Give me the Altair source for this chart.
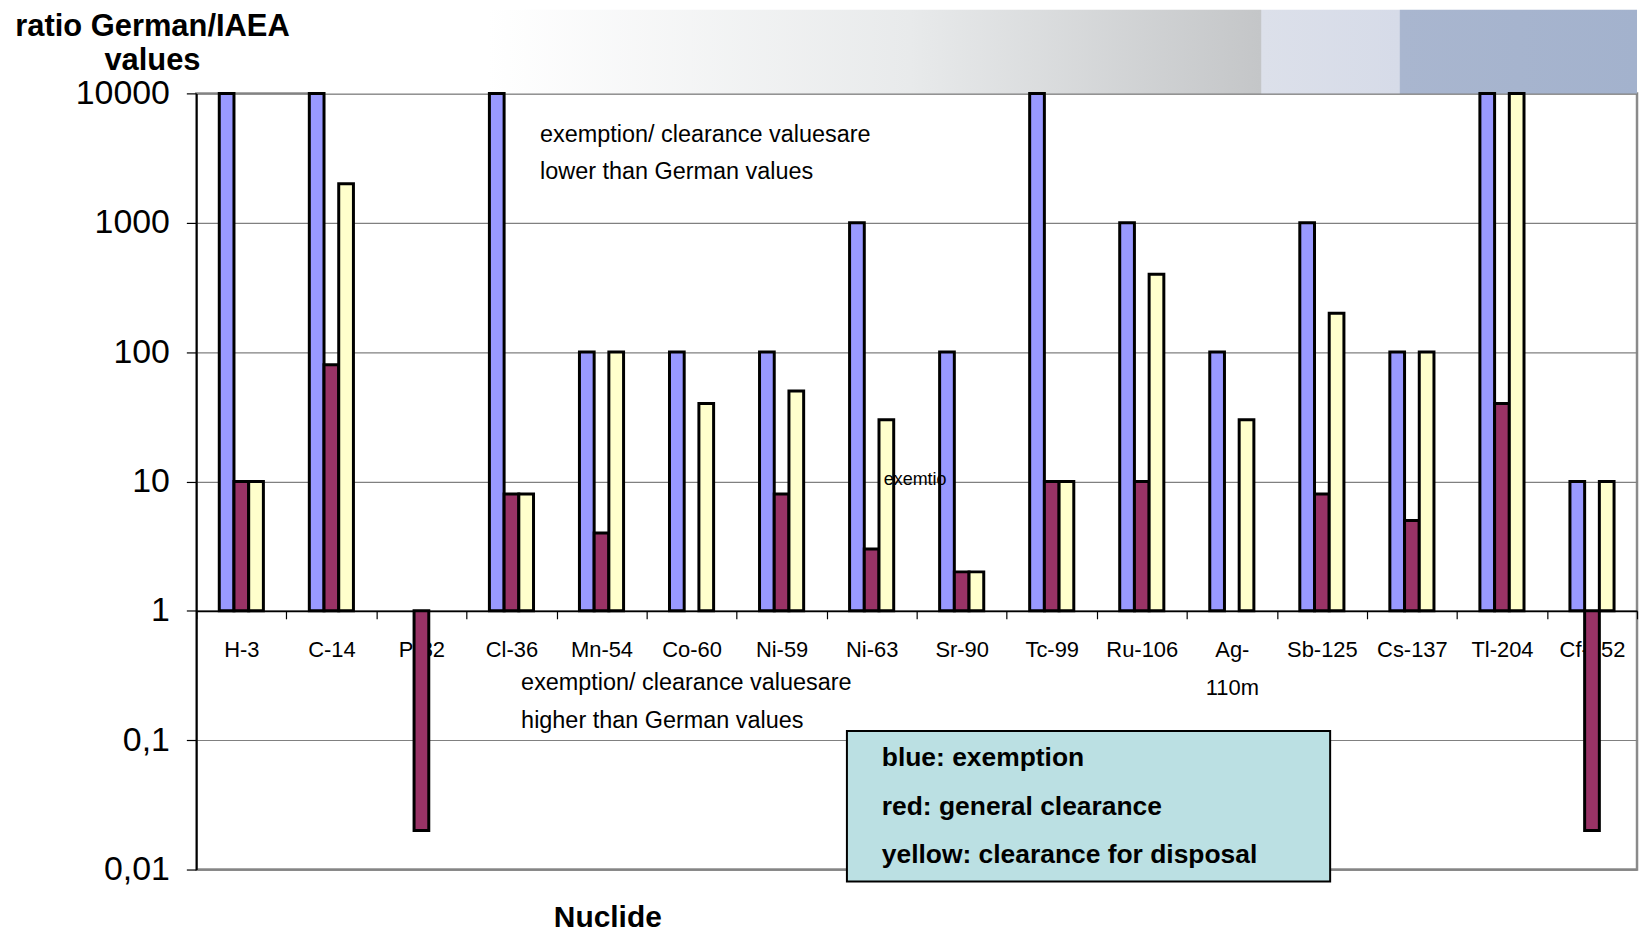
import altair as alt
import pandas as pd

# ---------------- data ----------------
nuclides = ["H-3", "C-14", "P-32", "Cl-36", "Mn-54", "Co-60", "Ni-59", "Ni-63",
            "Sr-90", "Tc-99", "Ru-106", "Ag-110m", "Sb-125", "Cs-137", "Tl-204", "Cf-252"]
exemption = [10000, 10000, None, 10000, 100, 100, 100, 1000,
             100, 10000, 1000, 100, 1000, 100, 10000, 10]
general_clearance = [10, 80, 0.02, 8, 4, None, 8, 3,
                     2, 10, 10, None, 8, 5, 40, 0.02]
disposal = [10, 2000, None, 8, 100, 40, 50, 30,
            2, 10, 400, 30, 200, 100, 10000, 10]
series_names = ["exemption", "general clearance", "clearance for disposal"]
series_colors = ["#9999FF", "#993366", "#FFFFCC"]
y_ticks = [0.01, 0.1, 1, 10, 100, 1000, 10000]

rows = []
for name, vals in zip(series_names, [exemption, general_clearance, disposal]):
    for nuc, v in zip(nuclides, vals):
        if v is not None:
            rows.append({"nuclide": nuc, "series": name, "value": v})
df = pd.DataFrame(rows)

# ---------------- layout ----------------
W, H = 1446, 779
FONT = "Liberation Sans"
step = W / len(nuclides)
y1_from_top = H * 4 / 6          # position of value 1 on a 6-decade log axis
x_axis_offset = -(H - y1_from_top)

bars = alt.Chart(df).mark_bar(stroke="black", strokeWidth=3).encode(
    x=alt.X("nuclide:N", sort=nuclides,
            scale=alt.Scale(paddingInner=0, paddingOuter=0),
            axis=alt.Axis(title=None, orient="bottom", offset=x_axis_offset,
                          tickBand="extent", tickSize=8, tickColor="black",
                          tickWidth=1.2, domainColor="black", domainWidth=1.8,
                          labelFont=FONT, labelFontSize=22, labelColor="black",
                          labelPadding=21, labelAngle=0, labelLineHeight=38,
                          labelExpr="datum.label == 'Ag-110m' ? ['Ag-', '110m'] : datum.label",
                          grid=False, zindex=0)),
    xOffset=alt.XOffset("series:N", sort=series_names,
                        scale=alt.Scale(domain=series_names, paddingInner=0, paddingOuter=0,
                                        range=[step * 0.255, step * 0.745])),
    y=alt.Y("value:Q",
            scale=alt.Scale(type="log", domain=[0.01, 10000]),
            axis=alt.Axis(title=None, values=y_ticks,
                          labelExpr="replace('' + datum.value, '.', ',')",
                          labelFont=FONT, labelFontSize=34, labelColor="black",
                          labelPadding=17, tickSize=10, tickColor="black",
                          tickWidth=1.2, domainColor="black", domainWidth=1.8,
                          grid=True, gridColor="#808080", gridWidth=1.2, zindex=0)),
    y2=alt.datum(1),
    color=alt.Color("series:N", scale=alt.Scale(domain=series_names, range=series_colors),
                    legend=None),
)


def one_row():
    return pd.DataFrame({"k": [0]})


def text_layer(txt, x, y, size, bold=False, align="left"):
    return alt.Chart(one_row()).mark_text(
        font=FONT, fontSize=size, fontWeight="bold" if bold else "normal",
        align=align, baseline="middle", color="black"
    ).encode(x=alt.value(x), y=alt.value(y), text=alt.value(txt))


# slide decoration strip above the plot
deco = alt.Chart(one_row()).mark_rect(
    fill={"gradient": "linear", "x1": 0, "x2": 1, "y1": 0, "y2": 0,
          "stops": [{"offset": 0, "color": "#ffffff"},
                    {"offset": 0.13, "color": "#ffffff"},
                    {"offset": 0.45, "color": "#e8eaeb"},
                    {"offset": 0.715, "color": "#c4c6c8"},
                    {"offset": 0.716, "color": "#dce0ea"},
                    {"offset": 0.82, "color": "#d6dbe8"},
                    {"offset": 0.821, "color": "#a9b6cf"},
                    {"offset": 1, "color": "#a3b2cd"}]},
    strokeWidth=0
).encode(x=alt.value(120), x2=alt.value(W), y=alt.value(-84), y2=alt.value(0))

legend_box = alt.Chart(one_row()).mark_rect(
    fill="#BBE0E3", stroke="black", strokeWidth=2
).encode(x=alt.value(653), x2=alt.value(1138), y=alt.value(640), y2=alt.value(791))

layers = [
    deco,
    bars,
    text_layer("exemption/ clearance valuesare", 345, 42, 23.5),
    text_layer("lower than German values", 345, 79, 23.5),
    text_layer("exemption/ clearance valuesare", 326, 592, 23.5),
    text_layer("higher than German values", 326, 630, 23.5),
    text_layer("exemtio", 690, 388, 18),
    legend_box,
    text_layer("blue: exemption", 688, 667, 26.5, bold=True),
    text_layer("red: general clearance", 688, 716, 26.5, bold=True),
    text_layer("yellow: clearance for disposal", 688, 764, 26.5, bold=True),
    text_layer("ratio German/IAEA", -44, -67, 31, bold=True, align="center"),
    text_layer("values", -44, -32, 31, bold=True, align="center"),
    text_layer("Nuclide", 413, 828, 30, bold=True, align="center"),
]

chart = alt.layer(*layers).properties(
    width=W, height=H,
    autosize=alt.AutoSizeParams(type="none"),
    padding={"left": 189, "top": 84, "right": 5, "bottom": 62},
    background="white",
).configure_view(stroke="#8a8a8a", strokeWidth=2.5)

chart.save("out.html", embed_options={"renderer": "svg", "actions": False})
